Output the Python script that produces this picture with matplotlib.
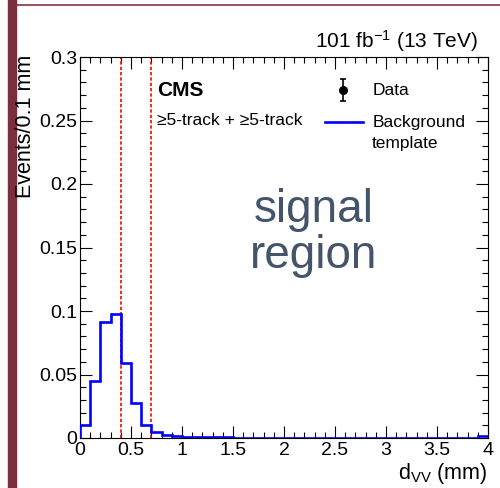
import matplotlib
matplotlib.use("Agg")
import matplotlib.pyplot as plt
import numpy as np
from matplotlib.ticker import MultipleLocator

plt.rcParams['font.family'] = ['Liberation Sans', 'DejaVu Sans']
plt.rcParams['mathtext.default'] = 'regular'

# Background template, 0.1 mm bins from 0 to 4 mm
bin_edges = np.linspace(0.0, 4.0, 41)
bkg = [0.0102, 0.045, 0.091, 0.098, 0.059, 0.0273, 0.0105, 0.0045, 0.0024, 0.0016,
       0.0011, 0.0008, 0.0006, 0.0005, 0.0004, 0.0003, 0.0003, 0.0002, 0.0002, 0.0002,
       0.0002, 0.0001, 0.0001, 0.0001, 0.0001, 0.0001, 0.0001, 0.0001, 0.0001, 0.0001,
       0.0001, 0.0001, 0.0001, 0.0001, 0.0001, 0.0001, 0.0001, 0.0001, 0.0001, 0.0013]
cut_lines = [0.4, 0.7]

slide_col = '#7a2e3e'

fig = plt.figure(figsize=(5.0, 4.88), dpi=100)
ax = fig.add_axes([80/500, 1 - 438/488, 408/500, 381/488])

ax.stairs(bkg, bin_edges, color='blue', lw=1.9, zorder=3)
for c in cut_lines:
    ax.axvline(c, color='#ff0000', ls=(0, (2, 1.2)), lw=1.2, zorder=2)

ax.set_xlim(0, 4)
ax.set_ylim(0, 0.3)
ax.xaxis.set_minor_locator(MultipleLocator(0.1))
ax.yaxis.set_minor_locator(MultipleLocator(0.01))
ax.set_xticks([0, 0.5, 1, 1.5, 2, 2.5, 3, 3.5, 4])
ax.set_xticklabels(['0', '0.5', '1', '1.5', '2', '2.5', '3', '3.5', '4'])
ax.set_yticks([0, 0.05, 0.1, 0.15, 0.2, 0.25, 0.3])
ax.set_yticklabels(['0', '0.05', '0.1', '0.15', '0.2', '0.25', '0.3'])
ax.tick_params(which='both', direction='in', top=True, right=True, width=0.8, labelsize=14)
ax.tick_params(which='major', length=8.5)
ax.tick_params(which='minor', length=4.3)
ax.tick_params(axis='x', pad=3)
ax.tick_params(axis='y', pad=2)
for s in ax.spines.values():
    s.set_linewidth(0.8)

# axis titles
fig.text(26/500, 1 - 55/488, 'Events/0.1 mm', rotation=90, ha='center', va='top', fontsize=15.5)
fig.text(488/500, 1 - 479/488, r'd$_{VV}$ (mm)', ha='right', va='baseline', fontsize=15.5)
fig.text(478/500, 1 - 48/488, r'101 fb$^{-1}$ (13 TeV)', ha='right', va='baseline', fontsize=15)

# labels inside the frame
ax.text(0.189, 0.912, 'CMS', transform=ax.transAxes, fontsize=15, fontweight='bold', va='center')
ax.text(0.189, 0.833, '≥5-track + ≥5-track', transform=ax.transAxes, fontsize=12.5, va='center')

# legend drawn by hand
ax.errorbar([0.645], [0.913], yerr=[0.028], fmt='o', color='black', ms=5.5, capsize=2.5,
            elinewidth=1.2, capthick=1.2, transform=ax.transAxes, clip_on=False)
ax.plot([0.600, 0.694], [0.829, 0.829], color='blue', lw=1.9, transform=ax.transAxes)
ax.text(0.716, 0.913, 'Data', transform=ax.transAxes, fontsize=12.5, va='center')
ax.text(0.716, 0.827, 'Background', transform=ax.transAxes, fontsize=12.5, va='center')
ax.text(0.716, 0.772, 'template', transform=ax.transAxes, fontsize=12.5, va='center')

# slide overlay
ax.text(0.573, 0.567, 'signal', transform=ax.transAxes, fontsize=33, color='#44546a',
        ha='center', va='baseline')
ax.text(0.573, 0.446, 'region', transform=ax.transAxes, fontsize=33, color='#44546a',
        ha='center', va='baseline')

fig.patches.append(plt.Rectangle((8/500, 0), 8/500, 1, transform=fig.transFigure,
                                 color=slide_col, zorder=1))
fig.lines.append(plt.Line2D([16/500, 1], [1 - 5/488, 1 - 5/488], transform=fig.transFigure,
                            color=slide_col, lw=1.5, alpha=0.8, zorder=1))

fig.savefig('out.png', dpi=100)
